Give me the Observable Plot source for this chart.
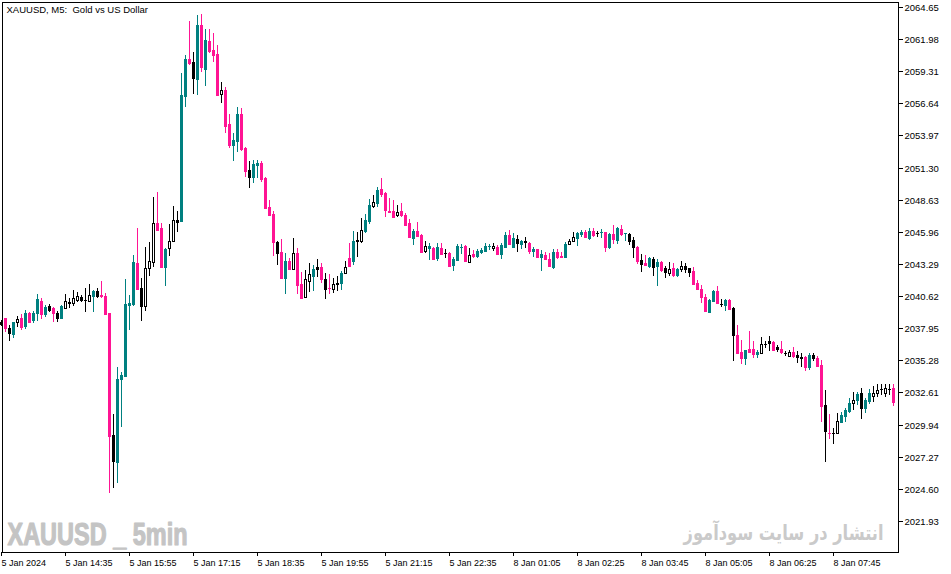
<!DOCTYPE html>
<html><head><meta charset="utf-8">
<script src="https://cdn.jsdelivr.net/npm/d3@7"></script>
<script src="https://cdn.jsdelivr.net/npm/@observablehq/plot@0.6"></script>
<style>html,body{margin:0;padding:0;background:#fff;overflow:hidden}svg{display:block}</style>
</head><body><div id="chart"></div>
<script>
// XAUUSD M5 candles (bar index 0..223)
const opens = [
2038.47,2038.78,2038.00,2037.47,2038.44,2038.83,2038.16,2039.24,2038.64,2039.19,
2040.21,2039.11,2039.80,2039.61,2039.24,2038.78,2039.66,2040.02,2040.02,2040.30,
2040.57,2040.30,2040.24,2040.65,2041.04,2040.71,2040.65,2039.19,2029.08,2026.86,
2033.71,2034.01,2039.91,2039.96,2043.35,2041.32,2039.82,2042.93,2043.48,2046.67,
2046.26,2043.07,2044.59,2045.20,2046.95,2046.89,2057.28,2060.30,2060.05,2058.66,
2063.15,2059.50,2061.82,2061.07,2060.74,2057.39,2057.75,2054.92,2053.18,2053.54,
2055.76,2052.91,2051.10,2050.54,2051.52,2051.66,2050.46,2048.05,2047.44,2045.14,
2044.31,2042.15,2043.56,2042.87,2044.23,2041.63,2040.52,2041.90,2042.32,2043.07,
2043.02,2042.04,2041.27,2041.21,2041.74,2041.68,2042.52,2043.76,2043.56,2045.24,
2045.20,2046.03,2046.89,2048.13,2048.38,2049.50,2049.16,2047.72,2047.70,2047.34,
2047.70,2047.36,2046.67,2045.47,2046.03,2045.70,2044.39,2044.64,2044.64,2043.76,
2044.59,2044.23,2044.23,2043.21,2043.62,2044.73,2044.79,2043.48,2044.12,2043.95,
2044.26,2044.37,2044.79,2044.59,2044.73,2044.10,2044.73,2045.70,2044.73,2045.37,
2044.95,2045.20,2045.06,2044.37,2044.54,2043.90,2044.04,2043.70,2043.07,2044.31,
2043.95,2043.90,2044.93,2045.23,2045.47,2045.76,2045.97,2045.42,2046.03,2045.84,
2045.92,2045.92,2044.73,2045.78,2045.28,2046.17,2045.84,2045.78,2045.28,2044.73,
2043.62,2043.40,2043.15,2043.70,2043.15,2043.48,2042.98,2042.57,2042.93,2042.37,
2042.85,2043.12,2042.93,2042.73,2041.74,2041.21,2040.52,2039.32,2040.24,2041.07,
2039.94,2039.88,2040.30,2039.66,2037.39,2035.95,2035.50,2036.23,2036.23,2035.81,
2035.92,2036.61,2036.91,2036.83,2036.37,2036.23,2035.87,2035.67,2035.95,2035.73,
2035.59,2035.59,2034.75,2035.73,2035.50,2034.89,2031.57,2029.27,2029.27,2029.22,
2030.18,2030.68,2031.07,2031.71,2031.99,2032.54,2031.30,2031.90,2032.34,2032.59,
2032.87,2032.54,2032.90,2033.01];
const highs = [
2038.64,2038.83,2038.22,2038.49,2038.99,2039.11,2039.47,2039.32,2039.38,2040.77,
2040.44,2039.88,2039.94,2039.74,2039.38,2039.88,2040.77,2040.49,2041.13,2040.94,
2040.71,2041.27,2041.60,2041.13,2041.27,2041.88,2040.85,2039.24,2030.82,2034.75,
2034.34,2042.04,2040.71,2044.04,2046.26,2042.10,2044.68,2045.12,2048.86,2049.30,
2046.67,2044.59,2046.61,2048.11,2047.70,2059.19,2060.66,2063.48,2060.91,2063.98,
2064.07,2062.79,2062.82,2062.51,2061.49,2058.44,2057.97,2055.76,2054.20,2056.31,
2056.23,2053.04,2051.85,2051.93,2051.93,2051.87,2050.54,2048.61,2047.70,2045.20,
2045.34,2044.18,2043.81,2045.42,2044.59,2042.65,2042.79,2043.35,2043.21,2043.70,
2043.35,2042.52,2042.46,2042.10,2042.29,2042.73,2043.56,2045.01,2046.03,2045.97,
2047.09,2047.42,2048.67,2049.02,2049.71,2050.41,2049.30,2048.75,2048.61,2048.19,
2048.38,2047.55,2047.00,2046.17,2046.80,2045.78,2045.23,2045.01,2044.73,2045.01,
2045.01,2044.54,2044.31,2043.85,2044.95,2044.95,2044.87,2044.59,2044.45,2044.51,
2044.59,2045.01,2044.95,2045.06,2044.87,2045.01,2045.97,2046.11,2045.84,2045.70,
2045.28,2045.56,2045.14,2044.68,2044.54,2044.45,2044.26,2044.18,2044.51,2044.51,
2044.26,2045.14,2045.37,2045.92,2045.97,2046.11,2046.11,2046.26,2046.26,2046.06,
2046.17,2045.97,2045.84,2046.53,2046.34,2046.53,2045.84,2045.89,2045.56,2044.79,
2044.10,2044.04,2043.85,2043.90,2043.68,2043.56,2043.12,2043.43,2043.40,2042.98,
2043.54,2043.40,2042.98,2043.07,2041.96,2041.54,2040.80,2040.36,2041.13,2041.46,
2040.36,2040.38,2040.38,2039.74,2038.22,2036.97,2036.14,2037.72,2036.89,2036.14,
2037.20,2036.89,2037.30,2036.89,2036.56,2036.89,2036.06,2036.14,2036.37,2036.06,
2035.87,2035.67,2035.87,2035.87,2035.64,2035.31,2032.82,2030.82,2029.68,2030.93,
2031.01,2031.30,2032.13,2032.63,2032.63,2033.01,2032.13,2032.90,2033.17,2033.29,
2033.29,2033.29,2033.29,2033.29];
const lows = [
2038.14,2037.61,2036.91,2037.16,2038.03,2037.80,2037.86,2038.36,2038.36,2038.58,
2038.72,2038.91,2039.32,2038.44,2038.49,2038.72,2039.55,2039.61,2039.82,2040.16,
2040.16,2039.32,2040.16,2039.32,2040.49,2040.44,2039.05,2024.23,2024.65,2025.11,
2029.77,2033.92,2037.80,2039.80,2041.19,2038.58,2039.41,2042.32,2043.02,2046.03,
2043.07,2041.46,2043.95,2045.14,2045.92,2046.89,2056.36,2059.83,2057.42,2057.33,
2059.27,2058.08,2060.80,2060.05,2057.28,2056.69,2054.20,2052.96,2051.85,2052.62,
2052.68,2050.54,2049.63,2050.05,2050.46,2050.08,2047.84,2047.28,2043.95,2043.21,
2042.04,2040.80,2042.79,2042.79,2040.80,2040.36,2040.44,2040.99,2041.07,2042.23,
2041.74,2040.36,2040.80,2040.90,2041.07,2041.13,2042.43,2043.02,2043.21,2043.90,
2045.06,2045.84,2046.61,2047.92,2048.05,2048.83,2047.17,2047.50,2047.22,2047.22,
2047.22,2046.45,2045.42,2044.87,2045.56,2044.31,2044.23,2043.62,2043.62,2043.56,
2044.04,2043.76,2043.12,2042.73,2043.56,2044.12,2043.51,2043.43,2043.76,2043.81,
2044.12,2044.26,2044.45,2044.39,2044.10,2043.70,2044.68,2044.87,2044.68,2044.31,
2044.51,2044.59,2044.10,2043.90,2043.85,2042.73,2043.68,2043.07,2042.87,2043.70,
2043.81,2043.85,2044.87,2045.09,2044.81,2045.56,2045.42,2045.28,2045.56,2045.56,
2045.42,2044.31,2044.51,2044.95,2044.95,2045.62,2045.23,2044.87,2043.76,2043.29,
2042.65,2043.15,2042.93,2042.32,2041.46,2042.65,2042.10,2042.32,2042.23,2042.18,
2042.65,2042.52,2042.23,2041.54,2041.13,2040.07,2039.32,2039.24,2040.16,2039.96,
2039.69,2039.38,2039.47,2035.23,2035.78,2034.98,2034.89,2035.87,2035.50,2035.45,
2035.78,2036.28,2036.06,2036.06,2036.00,2035.78,2035.64,2035.53,2035.45,2035.03,
2034.70,2034.42,2034.48,2035.25,2034.75,2030.18,2026.86,2028.75,2028.33,2029.14,
2030.05,2030.13,2030.88,2031.16,2031.57,2030.38,2030.88,2031.63,2031.79,2032.26,
2032.40,2032.26,2032.40,2031.51];
const closes = [
2038.30,2038.00,2037.53,2038.44,2038.69,2038.08,2039.24,2038.49,2039.19,2040.38,
2039.11,2039.74,2039.44,2039.19,2038.78,2039.80,2040.21,2040.16,2040.44,2040.63,
2040.30,2040.30,2040.71,2041.04,2040.65,2040.63,2039.13,2029.02,2026.94,2033.73,
2034.06,2039.96,2040.05,2043.46,2041.24,2039.82,2042.93,2043.54,2046.67,2046.11,
2043.07,2044.54,2045.20,2046.95,2046.80,2057.33,2060.33,2059.97,2058.77,2063.15,
2059.64,2061.91,2061.02,2060.66,2057.33,2057.75,2054.76,2053.18,2053.59,2055.76,
2052.85,2051.04,2050.54,2051.60,2051.66,2050.35,2047.97,2047.36,2045.14,2044.23,
2042.15,2043.54,2042.85,2044.18,2041.54,2040.44,2042.02,2042.46,2042.87,2042.87,
2042.02,2041.21,2041.27,2041.63,2041.60,2042.57,2043.07,2043.12,2045.23,2045.16,
2046.11,2046.95,2048.19,2048.42,2049.44,2049.11,2047.78,2047.64,2047.22,2047.61,
2047.36,2046.53,2045.56,2046.03,2045.64,2044.31,2044.79,2044.79,2043.68,2044.73,
2044.12,2044.23,2043.15,2043.68,2044.79,2044.73,2043.56,2044.04,2043.95,2044.37,
2044.45,2044.79,2044.79,2044.81,2044.12,2044.87,2045.70,2044.95,2045.42,2045.06,
2045.23,2045.09,2044.39,2044.54,2043.90,2044.12,2043.70,2043.12,2044.26,2043.85,
2043.90,2044.95,2045.23,2045.51,2045.84,2045.97,2045.51,2046.03,2045.70,2045.84,
2045.92,2044.68,2045.78,2045.34,2046.26,2045.78,2045.84,2045.23,2044.68,2043.56,
2043.29,2043.21,2043.76,2043.07,2043.48,2042.79,2042.60,2042.85,2042.37,2042.87,
2043.12,2042.87,2042.60,2041.63,2041.19,2040.52,2039.41,2040.30,2041.07,2040.02,
2039.94,2040.30,2039.55,2037.39,2035.87,2035.50,2036.14,2035.95,2035.81,2036.00,
2036.61,2036.61,2036.75,2036.14,2036.20,2035.95,2035.87,2035.95,2035.64,2035.53,
2035.50,2034.75,2035.73,2035.45,2034.84,2031.51,2029.41,2029.27,2029.27,2030.24,
2030.74,2031.16,2031.76,2031.99,2032.48,2031.30,2031.99,2032.59,2032.59,2032.82,
2032.87,2033.01,2032.90,2031.79];
// candle colouring: t = teal, p = pink, k = black (plain)
const kinds = ("kpktkptptt"+"ptkpktkkkk"+"kkktkpppkt"+"ttttpkkkkp"+"ptkkkttpkt"+
  "ptpppkpptt"+"ppkttppppk"+"ptpkppkktk"+"pkpkktkptk"+"kttktppppk"+
  "ppptppktpt"+"pkptttpkpt"+"tttkpttptk"+"tkptptpptp"+"ptkkttptpk"+
  "tptptptkkp"+"kptktpkkpt"+"kkkppppttp"+"ktpkpptppt"+"kkkpkpkkpk"+
  "kptkppkpkk"+"tttktkttkk"+"kkkp").split("");
const xTickIdx = [0,16,32,48,64,80,96,112,128,144,160,176,192,208];
const xTickLabels = ["5 Jan 2024","5 Jan 14:35","5 Jan 15:55","5 Jan 17:15","5 Jan 18:35",
  "5 Jan 19:55","5 Jan 21:15","5 Jan 22:35","8 Jan 01:05","8 Jan 02:25","8 Jan 03:45",
  "8 Jan 05:05","8 Jan 06:25","8 Jan 07:45"];
const yTicks = [2021.93,2024.60,2027.27,2029.94,2032.61,2035.28,2037.95,2040.62,2043.29,
  2045.96,2048.63,2051.30,2053.97,2056.64,2059.31,2061.98,2064.65];
const titleText = "XAUUSD, M5:  Gold vs US Dollar";
const wmLatin = "XAUUSD _ 5min";
const wmPersian = "انتشار در سایت سودآموز";

const palette = {t: "#008080", p: "#ff1493", k: "#000000"};
const candles = opens.map((o, i) => ({i, open: o, high: highs[i], low: lows[i], close: closes[i], kind: kinds[i]}));
const strokeOf = d => palette[d.kind];
const fillOf = d => (d.kind === "k" && d.close > d.open) ? "#ffffff" : palette[d.kind];
const labelOf = new Map(xTickIdx.map((v, j) => [v, xTickLabels[j]]));

const chart = Plot.plot({
  width: 951, height: 574,
  marginLeft: 2, marginTop: 2, marginRight: 53, marginBottom: 22,
  style: {background: "#ffffff", fontFamily: "'Liberation Sans', Arial, sans-serif", fontSize: "9.5px", color: "#000"},
  x: {type: "band", domain: candles.map(d => d.i), range: [0, 896], paddingInner: 0.5, paddingOuter: 0.25, align: 0, axis: null, label: null},
  y: {domain: [2019.35, 2065.06], range: [552, 2], round: true, axis: null, label: null},
  marks: [
    Plot.ruleX(candles, {x: "i", y1: "low", y2: "high", stroke: strokeOf, strokeWidth: 1}),
    Plot.barY(candles.filter(d => d.open !== d.close), {x: "i", y1: d => Math.min(d.open, d.close), y2: d => Math.max(d.open, d.close), fill: fillOf, stroke: strokeOf, strokeWidth: 1, dx: 0.5, dy: 0.5}),
    Plot.tickY(candles.filter(d => d.open === d.close), {x: "i", y: "open", stroke: strokeOf, strokeWidth: 1, insetLeft: -0.5, insetRight: -0.5, dx: 0.5}),
    Plot.axisY({anchor: "right", ticks: yTicks, tickFormat: d => d.toFixed(2), tickSize: 4, tickPadding: 2, fontSize: 9.5, label: null}),
    Plot.axisX({anchor: "bottom", ticks: xTickIdx, tickFormat: v => labelOf.get(v), tickSize: 4, tickPadding: 3, textAnchor: "start", fontSize: 9, label: null}),
    Plot.text([titleText], {frameAnchor: "top-left", text: d => d, dx: 4, dy: 7, textAnchor: "start", lineAnchor: "middle", fontSize: 9.5, fill: "#000"}),
    Plot.text([wmLatin], {frameAnchor: "bottom-left", text: d => d, dx: 5, dy: -17, textAnchor: "start", lineAnchor: "middle", fontSize: 31, fontWeight: "bold", fontFamily: "'Liberation Sans Narrow', 'Liberation Sans', Arial, sans-serif", fill: "#c4c4c4", stroke: "#c4c4c4", strokeWidth: 1.2}),
    Plot.text([wmPersian], {frameAnchor: "bottom-right", text: d => d, dx: -15, dy: -19, textAnchor: "end", lineAnchor: "middle", fontSize: 21, fontWeight: "bold", fontFamily: "'DejaVu Sans', 'Noto Sans', sans-serif", fill: "#cacaca"}),
    Plot.frame({stroke: "#000"})
  ]
});
document.getElementById("chart").appendChild(chart);
const svg = d3.select(chart);
svg.selectAll("text").filter(function(){ return this.textContent === wmLatin; })
  .attr("textLength", 180).attr("lengthAdjust", "spacingAndGlyphs");
// squeeze the Persian watermark horizontally around its right end (no textLength, keeps bbox sane)
svg.selectAll("text").filter(function(){ return this.textContent === wmPersian; })
  .each(function(){
    const w = this.getComputedTextLength();
    if (w > 0) {
      const s = Math.min(1, 200 / w);
      const t = this.getAttribute("transform") || "";
      this.setAttribute("transform", t + ` scale(${s.toFixed(3)},1)`);
    }
  });
</script>
</body></html>
